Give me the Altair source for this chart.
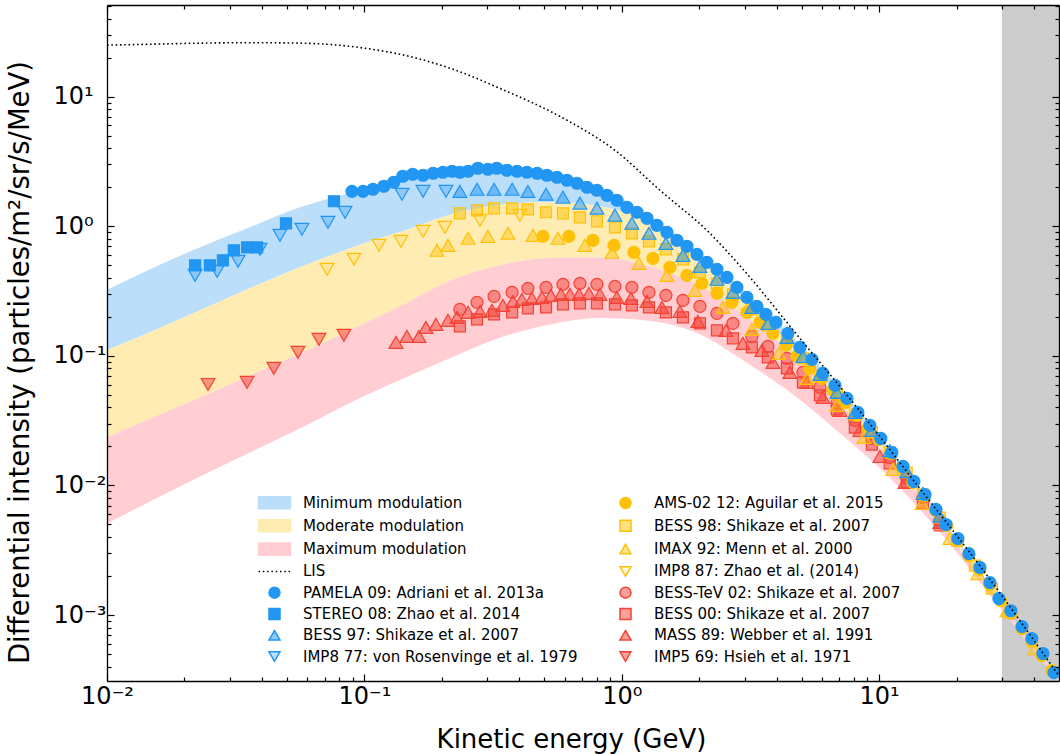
import math
import altair as alt
import pandas as pd

# ------------------------------------------------------------------ data
pamela_E = [0.0895, 0.0988, 0.108, 0.119, 0.130, 0.141, 0.154, 0.169, 0.185, 0.202, 0.219, 0.235, 0.253,
            0.276, 0.302, 0.327, 0.358, 0.392, 0.428, 0.469, 0.512, 0.560, 0.613, 0.670, 0.733, 0.801,
            0.876, 0.958, 1.048, 1.146, 1.253, 1.370, 1.498, 1.639, 1.792, 1.960, 2.143, 2.344, 2.563,
            2.803, 3.065, 3.352, 3.632, 3.972, 4.423, 4.925, 5.484, 6.050, 6.736, 7.499, 8.272, 9.21,
            10.16, 11.21, 12.38, 13.65, 15.07, 16.63, 18.18, 20.23, 22.33, 24.64, 26.95, 29.20, 32.5,
            35.9, 39.2, 43.3, 47.8]
pamela_I = [1.862, 1.862, 1.931, 2.037, 2.187, 2.433, 2.521, 2.477, 2.566, 2.612, 2.659, 2.612, 2.659,
            2.804, 2.755, 2.804, 2.706, 2.659, 2.612, 2.566, 2.477, 2.390, 2.266, 2.148, 2.001, 1.897,
            1.735, 1.588, 1.402, 1.283, 1.153, 1.018, 0.899, 0.780, 0.701, 0.608, 0.527, 0.466, 0.404,
            0.338, 0.283, 0.241, 0.209, 0.1814, 0.1492, 0.1163, 0.0940, 0.0733, 0.0592, 0.0470, 0.0366,
            0.02906, 0.02306, 0.01798, 0.01402, 0.01074, 0.00852, 0.00653, 0.00500, 0.00390, 0.00298,
            0.00233, 0.00178, 0.00134, 0.00108, 0.000815, 0.000659, 0.000505, 0.00036]

stereo_E = [0.0220, 0.0251, 0.0282, 0.0311, 0.0350, 0.0383, 0.0496, 0.0762]
stereo_I = [0.500, 0.500, 0.546, 0.653, 0.688, 0.688, 1.055, 1.56]

bess_grid_E = [0.235, 0.274, 0.319, 0.375, 0.432, 0.508, 0.591, 0.688, 0.801, 0.941, 1.095, 1.276, 1.485,
               1.729, 2.013, 2.344, 2.704, 3.204, 3.698, 4.384, 5.058, 5.89, 6.855, 8.05, 9.37, 11.0,
               12.8, 14.8, 17.2]
bess97_I = [1.86, 1.93, 1.93, 1.93, 1.86, 1.77, 1.68, 1.51, 1.38, 1.22, 1.055, 0.883, 0.739, 0.597,
            0.491, 0.390, 0.309, 0.237, 0.178, 0.139, 0.099, 0.072, 0.0523, 0.0366, 0.0266, 0.0186,
            0.0128, 0.0087, 0.0058]

imp877_E = [0.0220, 0.0268, 0.0323, 0.0393, 0.0470, 0.0572, 0.0722, 0.0841, 0.140, 0.169, 0.2075]
imp877_I = [0.418, 0.449, 0.537, 0.664, 0.852, 0.948, 1.074, 1.283, 1.766, 1.862, 1.862]

ams_E = [0.494, 0.623, 0.773, 0.933, 1.115, 1.322, 1.539, 1.792, 2.049, 2.344, 2.680, 3.065, 3.443,
         3.868, 4.345, 4.794, 5.385, 5.997, 6.614, 7.431, 8.2, 9.05, 9.98, 11.11, 12.27, 13.53, 15.07,
         16.63, 18.34, 20.23, 22.33, 24.64, 26.95, 29.73, 32.8, 35.9, 39.2, 42.9, 46.9]
ams_I = [0.837, 0.837, 0.780, 0.713, 0.630, 0.566, 0.483, 0.418, 0.363, 0.304, 0.259, 0.217, 0.1814,
         0.1492, 0.1206, 0.0991, 0.0801, 0.0671, 0.0542, 0.0437, 0.0347, 0.02756, 0.02265, 0.01767,
         0.01377, 0.01055, 0.00837, 0.00641, 0.00491, 0.00376, 0.00288, 0.00225, 0.00172, 0.00129,
         0.00103, 0.000786, 0.000624, 0.000487, 0.000373]

bess98_E = bess_grid_E + [20.06, 23.56, 27.44, 32.23]
bess98_I = [1.260, 1.329, 1.377, 1.377, 1.353, 1.283, 1.260, 1.173, 1.093, 0.982, 0.883, 0.766, 0.664,
            0.556, 0.441, 0.363, 0.2985, 0.2286, 0.172, 0.1317, 0.0957, 0.0695, 0.0504, 0.0353, 0.0257,
            0.0180, 0.0126, 0.00852, 0.00566, 0.00376, 0.00241, 0.0016, 0.001045]

imax_E = [0.1914, 0.2113, 0.253, 0.302, 0.3613, 0.4519, 0.5651, 0.7194, 0.9163, 1.166, 1.498, 1.925,
          2.473, 3.204, 4.080, 5.243, 6.855, 8.73, 11.31, 14.67, 18.84, 24.2, 31.4, 40.3]
imax_I = [0.653, 0.713, 0.808, 0.837, 0.883, 0.852, 0.808, 0.713, 0.630, 0.518, 0.418, 0.320, 0.237,
          0.160, 0.1045, 0.0671, 0.0415, 0.0235, 0.0133, 0.00726, 0.0039, 0.00209, 0.00108, 0.000551]

imp887_E = [0.0716, 0.0911, 0.1139, 0.1387, 0.169, 0.2056, 0.2813, 0.4022]
imp887_I = [0.466, 0.556, 0.713, 0.766, 0.915, 0.982, 1.113, 1.216]

besstev_I = [0.2286, 0.2589, 0.288, 0.309, 0.332, 0.338, 0.3566, 0.3629, 0.3566, 0.344, 0.338, 0.309,
             0.2933, 0.2683, 0.241, 0.2129, 0.1782, 0.1414, 0.1184, 0.0957, 0.0746, 0.0571, 0.0430,
             0.0318, 0.0231, 0.01645, 0.01153, 0.00808, 0.00537]

bess00_I = [0.169, 0.1913, 0.209, 0.2168, 0.2327, 0.2368, 0.2498, 0.2543, 0.2543, 0.2498, 0.2455, 0.2368,
            0.2168, 0.1983, 0.1782, 0.1573, 0.1365, 0.1163, 0.0974, 0.0801, 0.0624, 0.0496, 0.0386,
            0.0280, 0.0207, 0.0148, 0.01055, 0.00726, 0.00491]

mass_E = [0.1327, 0.1464, 0.1630, 0.1735, 0.1897, 0.2113, 0.2290, 0.253, 0.2813, 0.3131, 0.3455, 0.3779,
          0.4095, 0.4478, 0.4898, 0.5309, 0.5804, 0.6291, 0.682, 0.7458, 0.8229, 0.958, 1.086, 1.253,
          1.433, 1.683, 1.977, 2.54, 2.957, 3.505, 3.868, 4.503, 5.243, 6.05, 7.043, 8.42, 10.07, 12.6,
          17.2]
mass_I = [0.1271, 0.1414, 0.1414, 0.166, 0.175, 0.1879, 0.1983, 0.2168, 0.2207, 0.2246, 0.2455, 0.2635,
          0.2731, 0.278, 0.283, 0.2933, 0.2985, 0.2985, 0.2985, 0.3038, 0.2985, 0.283, 0.278, 0.2635,
          0.2368, 0.2207, 0.1847, 0.1573, 0.1249, 0.1103, 0.0891, 0.0746, 0.0624, 0.0478, 0.0380,
          0.0266, 0.01675, 0.01055, 0.00518]

imp569_E = [0.0247, 0.0350, 0.0445, 0.0552, 0.0666, 0.0833]
imp569_I = [0.0602, 0.0624, 0.0801, 0.1064, 0.1341, 0.1440]

band_E = [0.01, 0.0147, 0.0230, 0.0359, 0.0562, 0.100, 0.137, 0.215, 0.336, 0.526, 0.822, 1.27, 1.99,
          3.10, 4.85, 7.60, 10.0, 18.5, 29.0, 50.0]
min_upper = [0.324, 0.467, 0.690, 0.982, 1.40, 1.93, 2.27, 2.66, 2.86, 2.61, 2.00, 1.22, 0.63,
             0.30, 0.1271, 0.0470, 0.02432, 0.00483, 0.001365, 0.000335]
min_lower = [0.1103, 0.152, 0.2246, 0.332, 0.4826, 0.739, 0.899, 1.230, 1.46, 1.54, 1.427, 1.074,
             0.566, 0.2589, 0.1064, 0.04147, 0.02226, 0.00457, 0.001317, 0.000329]
mod_lower = [0.02348, 0.0329, 0.0478, 0.0707, 0.1045, 0.1780, 0.2400, 0.380, 0.500, 0.570, 0.5764,
             0.491, 0.3503, 0.1949, 0.0923, 0.0366, 0.02001, 0.00426, 0.001271, 0.000323]
max_lower = [0.00509, 0.00752, 0.01174, 0.01798, 0.02756, 0.0490, 0.0650, 0.0960, 0.1380, 0.1750,
             0.1960, 0.1870, 0.1480, 0.0870, 0.0470, 0.02226, 0.01377, 0.0037, 0.001184, 0.000301]

lis_E = [0.01, 0.0147, 0.0230, 0.0359, 0.0562, 0.100, 0.160, 0.215, 0.336, 0.613, 0.941, 1.407, 2.20,
         2.803, 4.925, 8.2, 14.4, 24.6, 49.9]
lis_I = [25.0, 25.4, 25.9, 26.1, 25.9, 23.7, 19.8, 16.6, 11.6, 6.58, 3.86, 1.897, 0.883, 0.527, 0.1365,
         0.040, 0.00948, 0.00241, 0.000341]

shade_E = [30.0, 50.0]

x_major = [0.01, 0.1, 1, 10]
y_major = [1e-3, 1e-2, 1e-1, 1, 10]
x_labels = ["10⁻²", "10⁻¹", "10⁰", "10¹"]
y_labels = ["10⁻³", "10⁻²", "10⁻¹", "10⁰", "10¹"]

# ------------------------------------------------------------------ styles
XDOM = [0.01, 50]
YDOM = [3.1e-4, 51]
W, H = 952, 676
FONT = "DejaVu Sans"
BLUE, YEL, RED = "#2196F3", "#FFC107", "#F44336"
BAND_BLUE, BAND_YEL, BAND_RED = "#BBDEFB", "#FFECB3", "#FFCDD2"


def rgba(h, a):
    h = h.lstrip("#")
    return "rgba(%d,%d,%d,%.2f)" % (int(h[0:2], 16), int(h[2:4], 16), int(h[4:6], 16), a)


SWATCH = "M-2.9,-1.1H2.9V1.1H-2.9Z"
DOTS = "M-2.9,0H-2.63M-2.12,0H-1.85M-1.34,0H-1.07M-0.56,0H-0.29M0.22,0H0.49M1.0,0H1.27M1.78,0H2.05M2.56,0H2.83"

# name, E, I, shape, fill, stroke, size   (drawing order: first = bottom)
series = [
    ("IMP5 69: Hsieh et al. 1971", imp569_E, imp569_I, "triangle-down", rgba(RED, 0.5), RED, 190),
    ("MASS 89: Webber et al. 1991", mass_E, mass_I, "triangle-up", rgba(RED, 0.5), RED, 190),
    ("BESS 00: Shikaze et al. 2007", bess_grid_E, bess00_I, "square", rgba(RED, 0.5), RED, 121),
    ("BESS-TeV 02: Shikaze et al. 2007", bess_grid_E, besstev_I, "circle", rgba(RED, 0.5), RED, 144),
    ("IMP8 87: Zhao et al. (2014)", imp887_E, imp887_I, "triangle-down", rgba(YEL, 0.15), YEL, 190),
    ("IMAX 92: Menn et al. 2000", imax_E, imax_I, "triangle-up", rgba(YEL, 0.45), YEL, 190),
    ("BESS 98: Shikaze et al. 2007", bess98_E, bess98_I, "square", rgba(YEL, 0.5), YEL, 121),
    ("AMS-02 12: Aguilar et al. 2015", ams_E, ams_I, "circle", YEL, YEL, 144),
    ("IMP8 77: von Rosenvinge et al. 1979", imp877_E, imp877_I, "triangle-down", rgba(BLUE, 0.3), BLUE, 190),
    ("BESS 97: Shikaze et al. 2007", bess_grid_E, bess97_I, "triangle-up", rgba(BLUE, 0.5), BLUE, 190),
    ("STEREO 08: Zhao et al. 2014", stereo_E, stereo_I, "square", BLUE, BLUE, 121),
    ("PAMELA 09: Adriani et al. 2013a", pamela_E, pamela_I, "circle", BLUE, BLUE, 144),
]
style = {s[0]: (s[3], s[4], s[5]) for s in series}
style["Minimum modulation"] = (SWATCH, BAND_BLUE, BAND_BLUE)
style["Moderate modulation"] = (SWATCH, BAND_YEL, BAND_YEL)
style["Maximum modulation"] = (SWATCH, BAND_RED, BAND_RED)
style["LIS"] = (DOTS, "transparent", "black")

left_col = ["Minimum modulation", "Moderate modulation", "Maximum modulation", "LIS",
            "PAMELA 09: Adriani et al. 2013a", "STEREO 08: Zhao et al. 2014",
            "BESS 97: Shikaze et al. 2007", "IMP8 77: von Rosenvinge et al. 1979"]
right_col = ["AMS-02 12: Aguilar et al. 2015", "BESS 98: Shikaze et al. 2007", "IMAX 92: Menn et al. 2000",
             "IMP8 87: Zhao et al. (2014)", "BESS-TeV 02: Shikaze et al. 2007",
             "BESS 00: Shikaze et al. 2007", "MASS 89: Webber et al. 1991", "IMP5 69: Hsieh et al. 1971"]
dom = left_col + right_col  # vertical legend fills column by column

rows = []
k = 0
for name, E, I, shp, fil, stk, sz in series:
    for e, i in zip(E, I):
        rows.append({"series": name, "E": e, "I": i, "sz": sz, "k": k})
        k += 1
pts_df = pd.DataFrame(rows)

xs = alt.Scale(type="log", domain=XDOM, nice=False)
ys = alt.Scale(type="log", domain=YDOM, nice=False)

leg = alt.Legend(orient="none", legendX=160, legendY=490, columns=2, direction="vertical", title=None,
                 labelFont=FONT, labelFontSize=15, labelColor="black", labelLimit=500,
                 symbolSize=121, symbolStrokeWidth=1.5, labelOffset=21, rowPadding=4.3,
                 columnPadding=39, padding=0, symbolLimit=20)

points = alt.Chart(pts_df).mark_point(opacity=1, strokeWidth=1.2, clip=True).encode(
    x=alt.X("E:Q", scale=xs, axis=None),
    y=alt.Y("I:Q", scale=ys, axis=None),
    shape=alt.Shape("series:N", scale=alt.Scale(domain=dom, range=[style[d][0] for d in dom]), legend=leg),
    fill=alt.Fill("series:N", scale=alt.Scale(domain=dom, range=[style[d][1] for d in dom]), legend=leg),
    stroke=alt.Stroke("series:N", scale=alt.Scale(domain=dom, range=[style[d][2] for d in dom]), legend=leg),
    size=alt.Size("sz:Q", scale=None),
    order=alt.Order("k:Q"),
)

band_df = pd.DataFrame({"E": band_E, "u": min_upper, "a": min_lower, "b": mod_lower, "c": max_lower})


def band(top, bot, col):
    return alt.Chart(band_df).mark_area(color=col, opacity=1, interpolate="monotone", clip=True).encode(
        x=alt.X("E:Q", scale=xs, axis=None),
        y=alt.Y(top + ":Q", scale=ys, axis=None),
        y2=alt.Y2(bot + ":Q"),
    )


bands = [band("u", "a", BAND_BLUE), band("a", "b", BAND_YEL), band("b", "c", BAND_RED)]

shade = alt.Chart(pd.DataFrame({"x0": [shade_E[0]], "x1": [shade_E[1]]})).mark_rect(
    color="#CCCCCC", clip=True).encode(
    x=alt.X("x0:Q", scale=xs, axis=None), x2="x1:Q")

lis = alt.Chart(pd.DataFrame({"E": lis_E, "I": lis_I})).mark_line(
    color="black", strokeDash=[1.6, 2.7], strokeWidth=1.6, interpolate="monotone", clip=True).encode(
    x=alt.X("E:Q", scale=xs, axis=None),
    y=alt.Y("I:Q", scale=ys, axis=None))

# ------------------------------------------------------------------ axes
dummy = pd.DataFrame({"x": [1.0], "y": [1.0]})
x_minor = [m * 10.0 ** e for e in range(-2, 2) for m in range(2, 10) if m * 10.0 ** e < XDOM[1] * 0.999]
y_minor = [m * 10.0 ** e for e in range(-4, 2) for m in range(2, 10)
           if YDOM[0] < m * 10.0 ** e < YDOM[1]]


def lab_expr(vals, labs):
    parts = []
    for v, l in zip(vals, labs):
        parts.append("abs(log(datum.value)/log(10) - (%g)) < 0.01 ? '%s'" % (math.log10(v), l))
    return " : ".join(parts) + " : ''"


def axis_layer(xa, ya):
    return alt.Chart(dummy).mark_point(opacity=0).encode(
        x=alt.X("x:Q", scale=xs, axis=xa),
        y=alt.Y("y:Q", scale=ys, axis=ya))


common = dict(grid=False, zindex=1, labelFlush=False, labelOverlap=False)

ax_main = axis_layer(
    alt.Axis(orient="bottom", values=x_major, labelExpr=lab_expr(x_major, x_labels), ticks=False, tickSize=0,
             domain=True, domainColor="black", domainWidth=1.3, labelFont=FONT, labelFontSize=24,
             labelColor="black", labelPadding=3, labelBaseline="top",
             title="Kinetic energy (GeV)", titleFont=FONT, titleFontSize=26, titleFontWeight="normal",
             titleColor="black", titleX=464, titleY=66, titleAlign="center", titleBaseline="alphabetic",
             **common),
    alt.Axis(orient="left", values=y_major, labelExpr=lab_expr(y_major, y_labels), ticks=False, tickSize=0,
             domain=True, domainColor="black", domainWidth=1.3, labelFont=FONT, labelFontSize=24,
             labelColor="black", labelPadding=54, labelAlign="left", labelBaseline="middle",
             title="Differential intensity (particles/m²/sr/s/MeV)", titleFont=FONT, titleFontSize=27.5,
             titleFontWeight="normal", titleColor="black", titleX=-87, titleY=357, titleAngle=270,
             titleAlign="center", titleBaseline="middle", **common),
)


def tick_axis(orient, vals, size):
    return alt.Axis(orient=orient, values=vals, ticks=True, tickSize=size, tickWidth=1.2, tickColor="black",
                    labels=False, domain=False, offset=-size, title=None, **common)


ax_b_maj = axis_layer(tick_axis("bottom", x_major, 7), tick_axis("left", y_major, 7))
ax_b_min = axis_layer(tick_axis("bottom", x_minor, 4), tick_axis("left", y_minor, 4))
ax_t_maj = axis_layer(tick_axis("top", x_major, 7), tick_axis("right", y_major, 7))
ax_t_min = axis_layer(tick_axis("top", x_minor, 4), tick_axis("right", y_minor, 4))
ax_frame = axis_layer(
    alt.Axis(orient="top", ticks=False, labels=False, domain=True, domainColor="black", domainWidth=1.3,
             title=None, **common),
    alt.Axis(orient="right", ticks=False, labels=False, domain=True, domainColor="black", domainWidth=1.3,
             title=None, **common),
)

chart = alt.layer(
    shade, *bands, points, lis, ax_main, ax_b_maj, ax_b_min, ax_t_maj, ax_t_min, ax_frame
).resolve_axis(x="independent", y="independent").properties(
    width=W, height=H,
    padding={"left": 107, "top": 5, "right": 1, "bottom": 73},
    autosize=alt.AutoSizeParams(type="none"),
).configure_view(strokeWidth=0)

chart.save("out.html", embed_options={"renderer": "svg", "actions": False})
